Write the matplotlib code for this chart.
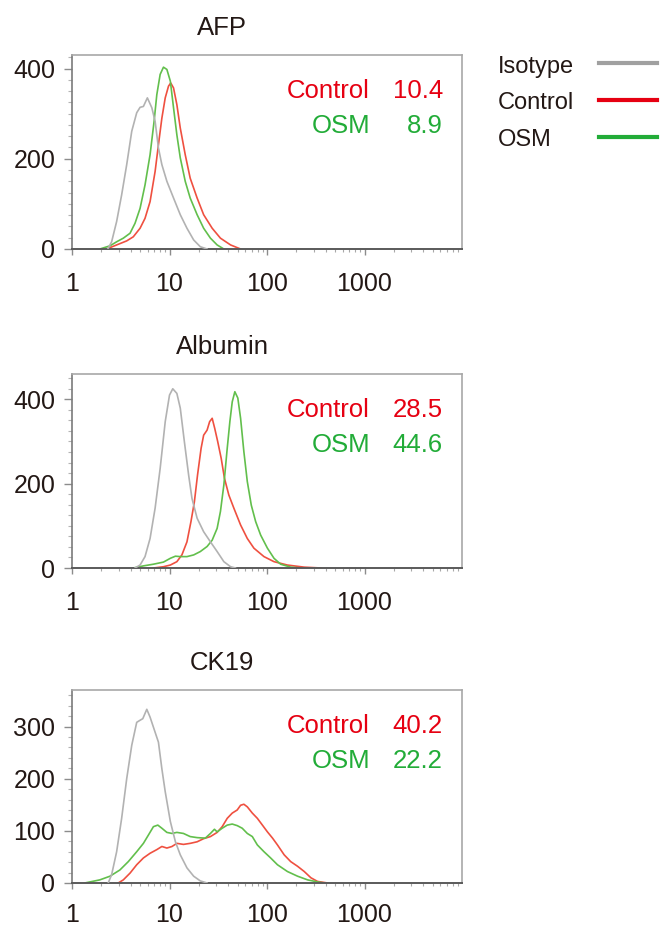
import numpy as np
import matplotlib
matplotlib.use("Agg")
import matplotlib.pyplot as plt
from matplotlib.lines import Line2D
from matplotlib.ticker import FixedLocator, LogLocator, MultipleLocator, NullFormatter

plt.rcParams['font.family'] = ['Liberation Sans', 'DejaVu Sans']

# --- data (fluorescence, cell count) ---
panels = ["AFP", "Albumin", "CK19"]
ctrl_mfi = ["10.4", "28.5", "40.2"]
osm_mfi = ["8.9", "44.6", "22.2"]
y_max = [430, 460, 370]
y_ticks = [[0, 200, 400], [0, 200, 400], [0, 100, 200, 300]]
y_minor = [25, 25, 20]

# AFP
afp_iso_x = [2.33, 2.55, 2.87, 3.23, 3.64, 4.10, 4.61, 4.99, 5.40, 5.93, 6.59, 7.12, 7.70,
             8.35, 9.40, 11.0, 12.9, 15.1, 17.7, 20.7, 24.3]
afp_iso_y = [0, 16, 61, 120, 187, 261, 302, 314, 316, 335, 313, 283, 224,
             187, 150, 113, 76, 46, 20, 5, 0]
afp_ctrl_x = [2.26, 2.87, 3.64, 4.25, 4.99, 5.61, 6.32, 7.12, 7.70, 8.35, 9.04, 9.77, 10.3,
              11.0, 11.9, 12.9, 14.5, 16.3, 19.2, 22.4, 27.4, 33.3, 42.3, 53.6]
afp_ctrl_y = [0, 9, 18, 27, 46, 68, 105, 172, 231, 290, 335, 361, 368,
              357, 320, 268, 209, 157, 113, 76, 46, 24, 9, 0]
afp_osm_x = [1.93, 2.45, 2.87, 3.36, 3.94, 4.43, 4.99, 5.61, 6.32, 6.95, 7.41, 8.02, 8.67,
             9.40, 10.2, 11.0, 11.9, 12.9, 14.5, 16.3, 19.2, 22.4, 26.3, 30.8, 36.1]
afp_osm_y = [0, 7, 16, 24, 35, 57, 90, 142, 209, 283, 342, 387, 403,
             398, 372, 313, 253, 202, 150, 113, 76, 46, 24, 9, 0]

# Albumin
alb_iso_x = [4.43, 4.99, 5.61, 6.32, 7.12, 8.02, 9.04, 10.0, 10.8, 11.9, 12.9, 14.2, 15.7,
             17.0, 19.2, 22.4, 26.3, 30.8, 36.1, 42.3, 47.5]
alb_iso_y = [0, 7, 27, 70, 142, 236, 347, 410, 425, 414, 379, 300, 221,
             165, 118, 86, 62, 39, 15, 3, 0]
alb_ctrl_x = [6.84, 8.67, 10.2, 11.9, 13.4, 15.1, 16.6, 18.0, 19.4, 21.1, 22.4, 24.3, 25.8,
              27.4, 29.1, 31.2, 33.9, 36.6, 40.6, 45.7, 53.6, 62.8, 73.4, 93.1, 118, 162,
              241, 358]
alb_ctrl_y = [0, 3, 7, 15, 31, 62, 110, 157, 221, 284, 315, 327, 347,
              355, 331, 300, 260, 213, 173, 142, 102, 70, 47, 27, 15, 7,
              2, 0]
alb_osm_x = [4.25, 5.40, 6.84, 8.67, 10.2, 11.5, 12.9, 15.1, 17.7, 20.7, 24.3, 27.4, 30.8,
             33.3, 36.1, 39.1, 41.6, 44.0, 46.8, 50.2, 53.6, 57.9, 62.8, 69.0, 76.5, 86.1,
             101, 118, 138, 175, 222]
alb_osm_y = [0, 5, 9, 14, 23, 28, 27, 27, 31, 39, 51, 66, 94,
             134, 197, 284, 347, 394, 418, 403, 355, 276, 205, 149, 110, 78,
             47, 23, 9, 2, 0]

# CK19
ck_iso_x = [2.35, 2.55, 2.87, 3.23, 3.64, 4.10, 4.61, 4.99, 5.32, 5.85, 6.32, 7.12, 7.70,
            8.35, 9.04, 10.2, 11.5, 12.9, 15.1, 17.7, 20.7, 24.3]
ck_iso_y = [0, 16, 60, 124, 200, 264, 308, 312, 315, 333, 318, 289, 270,
            219, 175, 118, 79, 54, 29, 13, 4, 0]
ck_ctrl_x = [2.98, 3.36, 3.94, 4.61, 5.40, 6.32, 7.41, 8.35, 9.40, 10.6, 11.9, 13.9, 16.3,
             19.2, 22.4, 26.3, 30.8, 34.7, 39.1, 44.0, 49.5, 53.6, 57.9, 62.8, 70.7, 79.6,
             89.7, 101, 114, 128, 150, 175, 206, 241, 282, 330, 419]
ck_ctrl_y = [0, 6, 19, 35, 48, 57, 64, 70, 67, 70, 76, 74, 76,
             79, 85, 89, 97, 108, 124, 134, 140, 149, 151, 146, 134, 124,
             111, 98, 86, 73, 54, 41, 32, 22, 10, 3, 0]
ck_osm_x = [1.35, 1.93, 2.45, 3.10, 3.78, 4.61, 5.40, 6.08, 6.84, 7.59, 8.35, 9.40, 10.6,
            11.9, 13.9, 16.3, 19.2, 23.3, 26.3, 28.9, 30.8, 34.7, 39.1, 44.0, 49.5, 55.7,
            62.8, 70.7, 79.6, 93.1, 109, 128, 162, 206, 261, 330, 387]
ck_osm_y = [0, 6, 13, 25, 41, 60, 76, 92, 108, 111, 105, 97, 95,
            97, 95, 89, 87, 86, 95, 103, 98, 105, 111, 113, 110, 105,
            95, 89, 73, 60, 48, 35, 22, 13, 6, 2, 0]

curves = [
    [(afp_iso_x, afp_iso_y), (afp_ctrl_x, afp_ctrl_y), (afp_osm_x, afp_osm_y)],
    [(alb_iso_x, alb_iso_y), (alb_ctrl_x, alb_ctrl_y), (alb_osm_x, alb_osm_y)],
    [(ck_iso_x, ck_iso_y), (ck_ctrl_x, ck_ctrl_y), (ck_osm_x, ck_osm_y)],
]

legend_labels = ["Isotype", "Control", "OSM"]
curve_colors = ["#b2b2b2", "#ef5040", "#62bf4c"]
key_colors = ["#a0a0a0", "#e60012", "#22ac38"]
txt = "#231815"

W, H = 660, 927
fig = plt.figure(figsize=(W / 100, H / 100), dpi=100)

# axes boxes in pixels: (left, top, right, bottom)
boxes = [(72, 55, 462, 249), (72, 374, 462, 568), (72, 690, 462, 883)]
x_pads = [12.5, 12.5, 10.5]   # last row sits right at the bottom edge

for i, name in enumerate(panels):
    l, t, r, b = boxes[i]
    h = b - t
    ax = fig.add_axes([l / W, 1 - b / H, (r - l) / W, h / H])
    for k, (xs, ys) in enumerate(curves[i]):
        ax.plot(xs, ys, color=curve_colors[k], lw=1.2, solid_joinstyle='round', zorder=2 + (k == 0))
    ax.set_xscale('log')
    ax.set_xlim(1, 10000)
    ax.set_ylim(0, y_max[i])

    ax.xaxis.set_major_locator(FixedLocator([1, 10, 100, 1000]))
    ax.set_xticklabels(["1", "10", "100", "1000"])
    ax.xaxis.set_minor_locator(LogLocator(base=10, subs=np.arange(2, 10)))
    ax.xaxis.set_minor_formatter(NullFormatter())
    ax.set_yticks(y_ticks[i])
    ax.yaxis.set_minor_locator(MultipleLocator(y_minor[i]))

    ax.tick_params(axis='x', which='major', length=4, width=1, color='#8c8c8c',
                   labelsize=18, labelcolor=txt, pad=x_pads[i])
    ax.tick_params(axis='x', which='minor', length=2.5, width=0.8, color='#a8a8a8')
    ax.tick_params(axis='y', which='major', length=6, width=1, color='#8c8c8c',
                   labelsize=18, labelcolor=txt, pad=6)
    ax.tick_params(axis='y', which='minor', length=3, width=0.8, color='#b4b4b4')

    for side in ['top', 'right']:
        ax.spines[side].set_color('#a8a8a8')
        ax.spines[side].set_linewidth(1.2)
    ax.spines['left'].set_color('#7a7a7a')
    ax.spines['bottom'].set_color('#5a5a5a')
    ax.spines['left'].set_linewidth(1.2)
    ax.spines['bottom'].set_linewidth(1.4)

    ax.text(0.385, 1 + 20 / h, name, transform=ax.transAxes, ha='center', va='baseline',
            fontsize=18.5, color=txt)
    ax.text(0.764, 1 - 43 / h, "Control", transform=ax.transAxes, ha='right', va='baseline',
            fontsize=18.5, color=key_colors[1])
    ax.text(0.951, 1 - 43 / h, ctrl_mfi[i], transform=ax.transAxes, ha='right', va='baseline',
            fontsize=18.5, color=key_colors[1])
    ax.text(0.764, 1 - 77.7 / h, "OSM", transform=ax.transAxes, ha='right', va='baseline',
            fontsize=18.5, color=key_colors[2])
    ax.text(0.951, 1 - 77.7 / h, osm_mfi[i], transform=ax.transAxes, ha='right', va='baseline',
            fontsize=18.5, color=key_colors[2])

# legend key at the top right
for k, lab in enumerate(legend_labels):
    fig.text(498 / W, 1 - (72.7 + 36.7 * k) / H, lab, ha='left', va='baseline',
             fontsize=17, color=txt)
    yk = 1 - (63.3 + 37 * k) / H
    fig.add_artist(Line2D([599 / W, 657 / W], [yk, yk], transform=fig.transFigure,
                          color=key_colors[k], lw=3))

fig.savefig("out.png", dpi=100)
